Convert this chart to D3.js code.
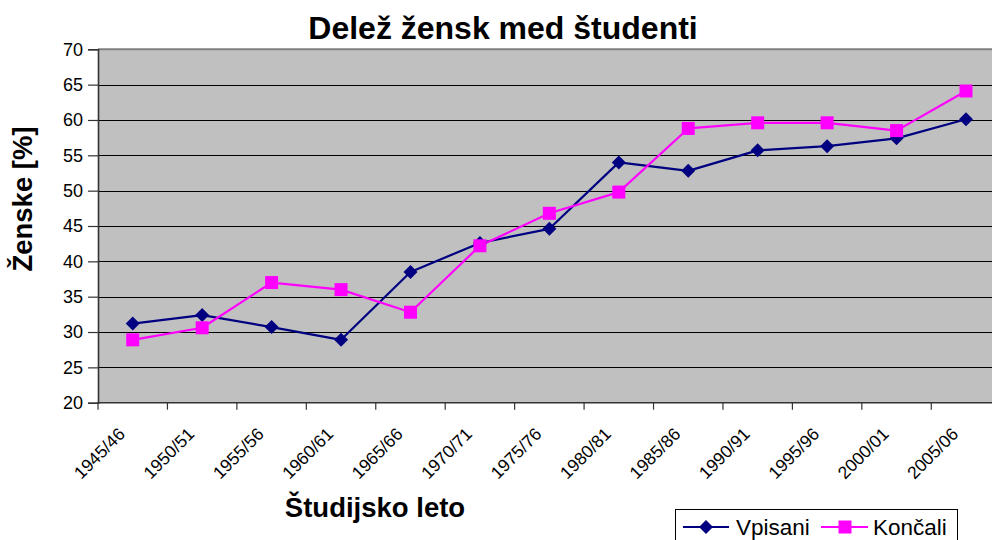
<!DOCTYPE html>
<html>
<head>
<meta charset="utf-8">
<script src="https://cdn.jsdelivr.net/npm/d3@7"></script>
<style>
  html, body { margin: 0; padding: 0; background: #fff; overflow: hidden; }
  svg { display: block; font-family: "Liberation Sans", Arial, sans-serif; }
</style>
</head>
<body>
<svg id="chart" width="992" height="540"></svg>
<script>
const categories = ["1945/46","1950/51","1955/56","1960/61","1965/66","1970/71","1975/76","1980/81","1985/86","1990/91","1995/96","2000/01","2005/06"];
const vpisani = [31.2, 32.4, 30.7, 28.9, 38.5, 42.6, 44.6, 54.0, 52.8, 55.7, 56.3, 57.4, 60.1];
const koncali = [28.9, 30.6, 37.0, 36.0, 32.8, 42.2, 46.8, 49.8, 58.8, 59.6, 59.6, 58.5, 64.1];
const yTicks = [20, 25, 30, 35, 40, 45, 50, 55, 60, 65, 70];
const seriesNames = ["Vpisani", "Končali"];
const seriesColors = ["#000080", "#FF00FF"];

(function () {
const svg = d3.select("#chart");
const pLeft = 98, pTop = 49.3, pBottom = 402.7, step = 69.44;
const pRight = pLeft + step * categories.length;

const x = d3.scaleBand().domain(categories).range([pLeft, pRight]).paddingInner(0).paddingOuter(0);
const y = d3.scaleLinear().domain([20, 70]).range([pBottom, pTop]);

// plot background
svg.append("rect").attr("x", pLeft).attr("y", pTop).attr("width", pRight - pLeft).attr("height", pBottom - pTop).attr("fill", "#C0C0C0");

// gridlines
svg.append("g").selectAll("line").data(yTicks.filter(d => d > 20 && d < 70)).join("line")
  .attr("x1", pLeft).attr("x2", pRight)
  .attr("y1", d => Math.round(y(d)) + 0.5).attr("y2", d => Math.round(y(d)) + 0.5)
  .attr("stroke", "#000").attr("stroke-width", 1);
// top border
svg.append("line").attr("x1", pLeft).attr("x2", pRight).attr("y1", pTop).attr("y2", pTop)
  .attr("stroke", "#808080").attr("stroke-width", 2);

// y axis
const yAxis = d3.axisLeft(y).tickValues(yTicks).tickSize(10).tickPadding(5).tickFormat(d3.format("d"));
const gy = svg.append("g").attr("transform", `translate(${pLeft},0)`).call(yAxis);
gy.select(".domain").attr("stroke", "#333").attr("stroke-width", 1.6);
gy.selectAll(".tick line").attr("stroke", "#333").attr("stroke-width", 1.2);
gy.selectAll(".tick text").attr("font-size", 18).attr("fill", "#000").attr("font-family", "Liberation Sans, Arial, sans-serif");

// x axis (ticks between categories)
const tickPos = d3.range(categories.length + 1).map(i => pLeft + i * step);
const gx = svg.append("g");
gx.append("line").attr("x1", pLeft).attr("x2", pRight).attr("y1", pBottom).attr("y2", pBottom)
  .attr("stroke", "#333").attr("stroke-width", 1.6);
gx.selectAll("line.tk").data(tickPos).join("line").attr("class", "tk")
  .attr("x1", d => d).attr("x2", d => d).attr("y1", pBottom).attr("y2", pBottom + 7)
  .attr("stroke", "#333").attr("stroke-width", 1.2);
gx.selectAll("text").data(categories).join("text")
  .attr("transform", d => `translate(${x(d) + x.bandwidth() / 2 - 6.7},${pBottom + 32.5}) rotate(-45)`)
  .attr("text-anchor", "end")
  .attr("font-size", 17.5)
  .text(d => d);

// lines & markers
const series = [vpisani, koncali];
const line = d3.line().x((d, i) => x(categories[i]) + x.bandwidth() / 2).y(d => y(d));
series.forEach((vals, si) => {
  svg.append("path").datum(vals).attr("d", line).attr("fill", "none")
    .attr("stroke", seriesColors[si]).attr("stroke-width", 2.2).attr("stroke-linejoin", "round");
});
const diamond = (cx, cy, r) => `M${cx},${cy - r}L${cx + r},${cy}L${cx},${cy + r}L${cx - r},${cy}Z`;
svg.append("g").selectAll("path").data(vpisani).join("path")
  .attr("d", (d, i) => diamond(x(categories[i]) + x.bandwidth() / 2, y(d), 7))
  .attr("fill", seriesColors[0]);
svg.append("g").selectAll("rect").data(koncali).join("rect")
  .attr("x", (d, i) => x(categories[i]) + x.bandwidth() / 2 - 6.5)
  .attr("y", d => y(d) - 6.5).attr("width", 13).attr("height", 13)
  .attr("fill", seriesColors[1]);

// titles
svg.append("text").attr("x", 503).attr("y", 39).attr("text-anchor", "middle")
  .attr("font-size", 32).attr("font-weight", "bold").text("Delež žensk med študenti");
svg.append("text").attr("x", 375).attr("y", 517).attr("text-anchor", "middle")
  .attr("font-size", 27.5).attr("font-weight", "bold").text("Študijsko leto");
svg.append("text").attr("transform", "translate(32,199) rotate(-90)").attr("text-anchor", "middle")
  .attr("font-size", 27.5).attr("font-weight", "bold").text("Ženske [%]");

// legend
const lg = svg.append("g");
lg.append("rect").attr("x", 675.5).attr("y", 509.5).attr("width", 282).attr("height", 60)
  .attr("fill", "#fff").attr("stroke", "#000").attr("stroke-width", 1);
const legendItems = [
  { x1: 683, x2: 729, mx: 706, tx: 736 },
  { x1: 821, x2: 868, mx: 845, tx: 873 }
];
legendItems.forEach((it, i) => {
  lg.append("line").attr("x1", it.x1).attr("x2", it.x2).attr("y1", 527).attr("y2", 527)
    .attr("stroke", seriesColors[i]).attr("stroke-width", 2.2);
  if (i === 0) {
    lg.append("path").attr("d", diamond(it.mx, 527, 7)).attr("fill", seriesColors[0]);
  } else {
    lg.append("rect").attr("x", it.mx - 6.5).attr("y", 520.5).attr("width", 13).attr("height", 13).attr("fill", seriesColors[1]);
  }
  lg.append("text").attr("x", it.tx).attr("y", 535).attr("font-size", 22.5).text(seriesNames[i]);
});
})();
</script>
</body>
</html>
